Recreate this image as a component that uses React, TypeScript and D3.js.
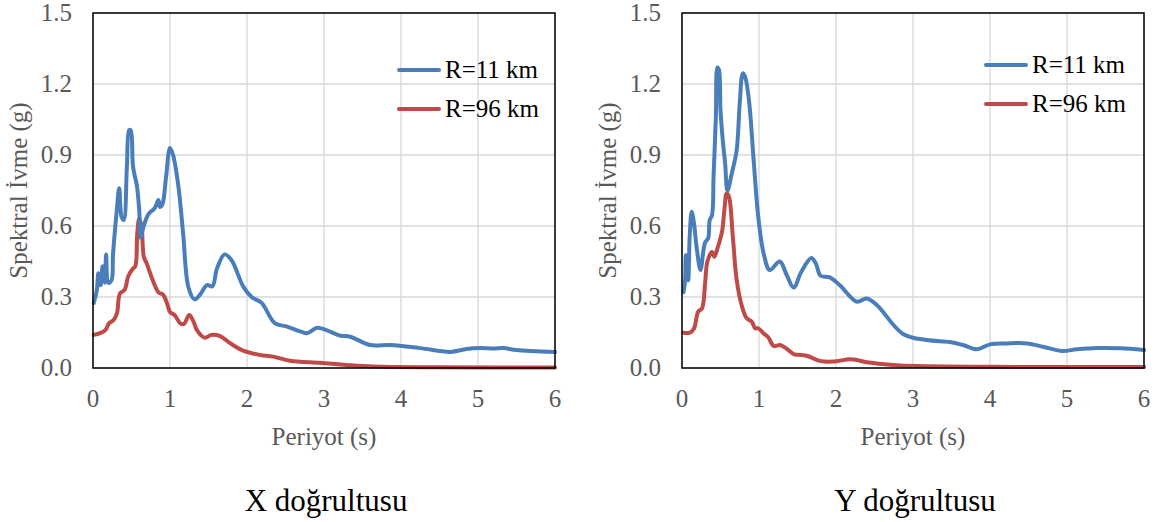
import React from "react";
import * as d3 from "d3";

// ---- Data ----
const xTicks = [0, 1, 2, 3, 4, 5, 6];
const yTicks = [0, 0.3, 0.6, 0.9, 1.2, 1.5];
const seriesNames = ["R=11 km", "R=96 km"];
const panelTitles = ["X doğrultusu", "Y doğrultusu"];

// X direction, R=11 km
const xR11Period = [0.01, 0.05, 0.07, 0.1, 0.125, 0.156, 0.17, 0.2, 0.24, 0.26, 0.31, 0.34, 0.37, 0.4, 0.44, 0.47, 0.49, 0.52, 0.57, 0.6, 0.62, 0.65, 0.72, 0.8, 0.85, 0.87, 0.9, 0.95, 1.0, 1.04, 1.11, 1.17, 1.24, 1.32, 1.39, 1.48, 1.55, 1.61, 1.71, 1.8, 1.95, 2.06, 2.19, 2.36, 2.52, 2.69, 2.78, 2.91, 3.03, 3.21, 3.34, 3.6, 3.86, 4.25, 4.64, 4.85, 5.03, 5.2, 5.33, 5.5, 6.0];
const xR11Sa = [0.275, 0.33, 0.4, 0.35, 0.43, 0.36, 0.48, 0.36, 0.37, 0.48, 0.67, 0.76, 0.64, 0.625, 0.85, 1.005, 1.005, 0.85, 0.77, 0.67, 0.55, 0.59, 0.65, 0.675, 0.71, 0.68, 0.69, 0.81, 0.93, 0.9, 0.765, 0.57, 0.34, 0.29, 0.31, 0.35, 0.345, 0.42, 0.48, 0.455, 0.345, 0.3, 0.275, 0.19, 0.175, 0.155, 0.147, 0.17, 0.16, 0.137, 0.132, 0.097, 0.097, 0.084, 0.068, 0.08, 0.084, 0.082, 0.084, 0.076, 0.068];

// X direction, R=96 km
const xR96Period = [0.01, 0.09, 0.16, 0.21, 0.26, 0.31, 0.35, 0.41, 0.46, 0.52, 0.55, 0.575, 0.6, 0.63, 0.66, 0.7, 0.76, 0.85, 0.91, 0.96, 1.0, 1.06, 1.13, 1.18, 1.25, 1.3, 1.35, 1.45, 1.54, 1.65, 1.78, 1.95, 2.17, 2.34, 2.56, 2.95, 3.29, 3.64, 4.5, 6.0];
const xR96Sa = [0.14, 0.147, 0.16, 0.19, 0.2, 0.23, 0.315, 0.33, 0.39, 0.42, 0.43, 0.57, 0.63, 0.6, 0.47, 0.44, 0.385, 0.32, 0.31, 0.275, 0.237, 0.224, 0.19, 0.186, 0.224, 0.2, 0.16, 0.128, 0.14, 0.135, 0.105, 0.073, 0.055, 0.048, 0.031, 0.022, 0.013, 0.006, 0.003, 0.002];

// Y direction, R=11 km
const yR11Period = [0.02, 0.04, 0.05, 0.08, 0.1, 0.126, 0.156, 0.19, 0.24, 0.28, 0.3, 0.34, 0.36, 0.39, 0.41, 0.44, 0.46, 0.48, 0.5, 0.53, 0.56, 0.59, 0.645, 0.71, 0.75, 0.79, 0.82, 0.87, 0.93, 0.99, 1.06, 1.14, 1.27, 1.36, 1.45, 1.55, 1.68, 1.74, 1.8, 1.92, 2.05, 2.27, 2.4, 2.53, 2.87, 3.18, 3.48, 3.65, 3.83, 4.0, 4.22, 4.48, 4.69, 4.93, 5.13, 5.39, 5.69, 6.0];
const yR11Sa = [0.32, 0.37, 0.477, 0.37, 0.555, 0.66, 0.61, 0.51, 0.414, 0.5, 0.53, 0.548, 0.625, 0.646, 0.81, 1.06, 1.27, 1.26, 1.09, 0.96, 0.865, 0.75, 0.82, 0.92, 1.12, 1.245, 1.23, 1.13, 0.88, 0.64, 0.484, 0.414, 0.45, 0.393, 0.34, 0.407, 0.465, 0.44, 0.39, 0.383, 0.35, 0.28, 0.294, 0.266, 0.144, 0.118, 0.11, 0.097, 0.079, 0.1, 0.104, 0.104, 0.09, 0.072, 0.079, 0.084, 0.083, 0.076];

// Y direction, R=96 km
const yR96Period = [0.02, 0.1, 0.156, 0.21, 0.26, 0.3, 0.33, 0.39, 0.42, 0.46, 0.52, 0.55, 0.58, 0.61, 0.66, 0.71, 0.78, 0.84, 0.905, 0.95, 0.99, 1.06, 1.12, 1.19, 1.27, 1.34, 1.45, 1.55, 1.62, 1.79, 1.96, 2.18, 2.27, 2.4, 2.74, 3.05, 4.0, 6.0];
const yR96Sa = [0.149, 0.149, 0.167, 0.238, 0.252, 0.358, 0.45, 0.49, 0.47, 0.505, 0.576, 0.667, 0.738, 0.724, 0.555, 0.372, 0.259, 0.21, 0.196, 0.168, 0.168, 0.146, 0.13, 0.093, 0.097, 0.086, 0.059, 0.055, 0.052, 0.03, 0.027, 0.037, 0.034, 0.024, 0.013, 0.008, 0.005, 0.004];

const BLUE = "#4A7EBB";
const RED = "#BE4B48";
const FONT = '"Liberation Serif", "Times New Roman", Times, "DejaVu Serif", serif';
const tStyle = { fontFamily: FONT };

type PanelProps = {
  left: number;
  r11T: number[];
  r11S: number[];
  r96T: number[];
  r96S: number[];
  title: string;
  legendX: number;
  legendY: number;
};

function Panel({ left, r11T, r11S, r96T, r96S, title, legendX, legendY }: PanelProps) {
  const top = 13;
  const width = 462;
  const height = 355;
  const x = d3.scaleLinear().domain([0, 6]).range([left, left + width]);
  const y = d3.scaleLinear().domain([0, 1.5]).range([top + height, top]);
  const line = d3
    .line<[number, number]>()
    .x((d) => x(d[0]))
    .y((d) => y(d[1]))
    .curve(d3.curveCatmullRom.alpha(0.5));
  const p11 = line(r11T.map((t, i) => [t, r11S[i]] as [number, number])) || "";
  const p96 = line(r96T.map((t, i) => [t, r96S[i]] as [number, number])) || "";
  const cx = left + width / 2;
  return (
    <g>
      {yTicks.map((v) => (
        <line key={"gy" + v} x1={left} x2={left + width} y1={y(v)} y2={y(v)} stroke="#d9d9d9" strokeWidth={1.3} />
      ))}
      {xTicks.map((v) => (
        <line key={"gx" + v} x1={x(v)} x2={x(v)} y1={top} y2={top + height} stroke="#d9d9d9" strokeWidth={1.3} />
      ))}
      <path d={p96} fill="none" stroke={RED} strokeWidth={4} strokeLinejoin="round" strokeLinecap="round" />
      <path d={p11} fill="none" stroke={BLUE} strokeWidth={4} strokeLinejoin="round" strokeLinecap="round" />
      <rect x={left} y={top} width={width} height={height} fill="none" stroke="#000" strokeWidth={1.5} />
      {yTicks.map((v) => (
        <text key={"ty" + v} x={left - 21} y={y(v) + 8} textAnchor="end" fontSize={25} fill="#595959" style={tStyle}>
          {v.toFixed(1)}
        </text>
      ))}
      {xTicks.map((v) => (
        <text key={"tx" + v} x={x(v)} y={407} textAnchor="middle" fontSize={25} fill="#595959" style={tStyle}>
          {v}
        </text>
      ))}
      <text x={cx} y={445} textAnchor="middle" fontSize={25} fill="#595959" style={tStyle}>
        Periyot (s)
      </text>
      <text
        transform={`translate(${left - 66},${top + height / 2}) rotate(-90)`}
        textAnchor="middle"
        fontSize={25}
        fill="#595959"
        style={tStyle}
      >
        Spektral İvme (g)
      </text>
      <text x={cx + 2} y={511} textAnchor="middle" fontSize={31} fill="#000" style={tStyle}>
        {title}
      </text>
      {[BLUE, RED].map((c, i) => (
        <g key={"lg" + i}>
          <line x1={legendX} x2={legendX + 40} y1={legendY + i * 39} y2={legendY + i * 39} stroke={c} strokeWidth={4} strokeLinecap="round" />
          <text x={legendX + 46} y={legendY + i * 39 + 8} fontSize={25} fill="#000" style={tStyle}>
            {seriesNames[i]}
          </text>
        </g>
      ))}
    </g>
  );
}

export default function App() {
  return (
    <svg
      width={1161}
      height={522}
      style={{ position: "absolute", left: 0, top: 0, background: "#fff" }}
    >
      <rect x={0} y={0} width={1161} height={522} fill="#fff" />
      <Panel left={93} r11T={xR11Period} r11S={xR11Sa} r96T={xR96Period} r96S={xR96Sa} title={panelTitles[0]} legendX={399} legendY={70} />
      <Panel left={682} r11T={yR11Period} r11S={yR11Sa} r96T={yR96Period} r96S={yR96Sa} title={panelTitles[1]} legendX={986} legendY={65} />
    </svg>
  );
}
